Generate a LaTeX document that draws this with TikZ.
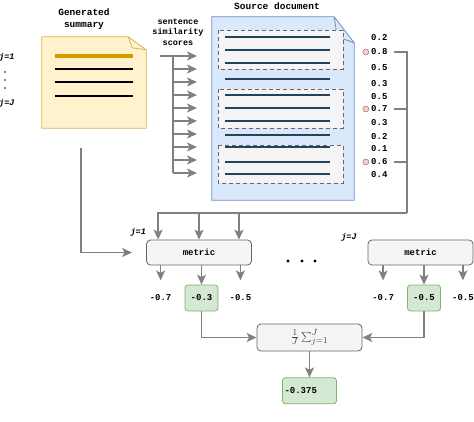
\documentclass[tikz,border=0pt]{standalone}
\usepackage{fontspec}
\setmonofont{Liberation Mono}
\usetikzlibrary{arrows.meta,positioning}
\definecolor{notefill}{HTML}{FFF2CC}
\definecolor{notedraw}{HTML}{D6B656}
\definecolor{docfill}{HTML}{DAE8FC}
\definecolor{docdraw}{HTML}{6C8EBF}
\definecolor{boxfill}{HTML}{F5F5F5}
\definecolor{boxdraw}{HTML}{666666}
\definecolor{goodfill}{HTML}{D5E8D4}
\definecolor{gooddraw}{HTML}{82B366}
\definecolor{hitfill}{HTML}{F8CECC}
\definecolor{hitdraw}{HTML}{B85450}
\definecolor{conn}{HTML}{808080}
\definecolor{hilite}{HTML}{D79B00}
\definecolor{docline}{HTML}{23445D}

\begin{document}
\begin{tikzpicture}[x=1pt, y=-1pt,
    lbl/.style={font=\ttfamily\bfseries\fontsize{9.5}{12}\selectfont, inner sep=1pt, align=center},
    small/.style={font=\ttfamily\bfseries\fontsize{8.5}{10.5}\selectfont, inner sep=1pt, align=center},
    val/.style={font=\ttfamily\bfseries\fontsize{9}{11}\selectfont, inner sep=1pt},
    jlbl/.style={font=\ttfamily\bfseries\itshape\fontsize{8.5}{10}\selectfont, inner sep=0pt, anchor=west},
    metricbox/.style={draw=boxdraw, fill=boxfill, rounded corners=4pt, thick,
        minimum width=105pt, minimum height=25pt, val},
    goodbox/.style={draw=gooddraw, fill=goodfill, rounded corners=3pt, thick,
        minimum width=33pt, minimum height=26pt, val},
    hit/.style={circle, draw=hitdraw, fill=hitfill, inner sep=0pt, minimum size=6pt},
    sentbox/.style={draw=boxdraw, fill=boxfill, thick, dash pattern=on 4pt off 3pt},
    line/.style={draw=conn, line width=1.3pt},
    arr/.style={line, -{Stealth[length=10pt,width=9pt,inset=2.5pt]}}]
    \useasboundingbox (0,0) rectangle (474,422);

    % headers
    \node[lbl] (gentitle) at (84,19) {Generated\\summary};
    \node[small] (simtitle) at (178,32) {sentence\\similarity\\scores};
    \node[lbl] (srctitle) at (277,6) {Source document};

    % summary index j
    \node[jlbl] (jtop) at (-1,57) {j=1};
    \foreach \y in {72,80,88} \fill (5,\y) circle (0.9pt);
    \node[jlbl] (jbot) at (-1,103) {j=J};

    % generated summary note
    \node[minimum width=104pt, minimum height=91pt] (summ) at (94,82.5) {};
    \draw[notedraw, fill=notefill, thick] (summ.south west) |- ([xshift=-18pt]summ.north east)
        -- ([yshift=-13pt]summ.north east) -- (summ.south east) -- cycle;
    \draw[notedraw, thick] ([xshift=-18pt]summ.north east) -- ([xshift=-14pt,yshift=-11pt]summ.north east)
        -- ([yshift=-13pt]summ.north east);
    \draw[hilite, line width=3.5pt] (55,56) -- (133,56);
    \foreach \y in {69,82,96} \draw[line width=1.3pt] (55,\y) -- (133,\y);

    % source document
    \node[minimum width=142pt, minimum height=183pt] (doc) at (283,108.5) {};
    \draw[docdraw, fill=docfill, thick] (doc.south west) |- ([xshift=-20pt]doc.north east)
        -- ([yshift=-26pt]doc.north east) -- (doc.south east) -- cycle;
    \draw[docdraw, thick] ([xshift=-20pt]doc.north east) -- ([xshift=-17pt,yshift=-20pt]doc.north east)
        -- ([yshift=-26pt]doc.north east);
    \draw[sentbox] (218,30) rectangle (343,69);
    \draw[sentbox] (218,89) rectangle (343,128);
    \draw[sentbox] (218,145) rectangle (343,183);
    \foreach \y in {37,50,63,79,95,108,121,135,147,162,174}
        \draw[docline, line width=1.6pt] (225,\y) -- (330,\y);

    % sentence similarity arrows
    \coordinate (fan) at (160,56);
    \draw[line] (fan) -- (173,56) -- (173,173);
    \foreach \y in {56,69,...,173} \draw[arr] (173,\y) -- (197,\y);

    % scores
    \foreach \y/\v [count=\i] in {38/0.2, 52/0.8, 68/0.5, 84/0.3, 97/0.5, 109/0.7,
        123/0.3, 137/0.2, 149/0.1, 162/0.6, 175/0.4}
        \node[val, anchor=west, inner sep=0pt] (s\i) at (371,\y) {\v};
    \foreach \i in {2,6,10} \node[hit, left=2pt of s\i] (h\i) {};

    % metric boxes
    \node[metricbox] (m1) at (199,252.5) {metric};
    \node[metricbox] (m2) at (420.5,252.5) {metric};
    \node[jlbl, anchor=south east] (j1) at ([yshift=3pt]m1.north west) {j=1};
    \node[jlbl, anchor=center] (jJ) at (349,237) {j=J};
    \foreach \x in {288,302,315} \fill (\x,261) circle (1.6pt);

    % selected sentences into metric
    \coordinate (bk) at (407,213);
    \draw[line] ([xshift=6pt]s2.east) -| (bk);
    \foreach \i in {6,10} \draw[line] ([xshift=6pt]s\i.east) -- (s\i.east -| bk);
    \coordinate (m1l) at ([xshift=12pt]m1.north west);
    \coordinate (m1r) at ([xshift=-13pt]m1.north east);
    \draw[arr] (bk) -| (m1l);
    \draw[arr] (bk -| m1.north) -- (m1.north);
    \draw[arr] (bk -| m1r) -- (m1r);
    \draw[arr] ([xshift=-13pt,yshift=-20pt]summ.south) |- ([xshift=-14pt]m1.west);

    % scores j=1
    \node[goodbox] (g1) at (201.5,298) {-0.3};
    \node[val, left=12pt of g1] (a1) {-0.7};
    \node[val, right=10pt of g1] (b1) {-0.5};
    \draw[arr] (m1.south -| a1) -- ++(0,15);
    \draw[arr] (m1.south -| g1) -- (g1.north);
    \draw[arr] (m1.south -| b1) -- ++(0,15);

    % scores j=J
    \node[goodbox] (g2) at (424,298) {-0.5};
    \node[val, left=12pt of g2] (a2) {-0.7};
    \node[val, right=10pt of g2] (b2) {-0.5};
    \draw[arr] (m2.south -| a2) -- ++(0,15);
    \draw[arr] (m2.south -| g2) -- (g2.north);
    \draw[arr] (m2.south -| b2) -- ++(0,15);

    % average
    \node[metricbox, minimum height=27pt, text=black!75, font=\fontsize{13}{15}\selectfont] (sum) at (309.5,337.5)
        {$\frac{1}{J}\sum_{j=1}^{J}$};
    \node[goodbox, below=26pt of sum, minimum width=0pt, text width=50pt, align=left, inner sep=2pt] (res) {-0.375};
    \draw[arr] (g1.south) |- (sum.west);
    \draw[arr] (g2.south) |- (sum.east);
    \draw[arr] (sum) -- (res);
\end{tikzpicture}
\end{document}
